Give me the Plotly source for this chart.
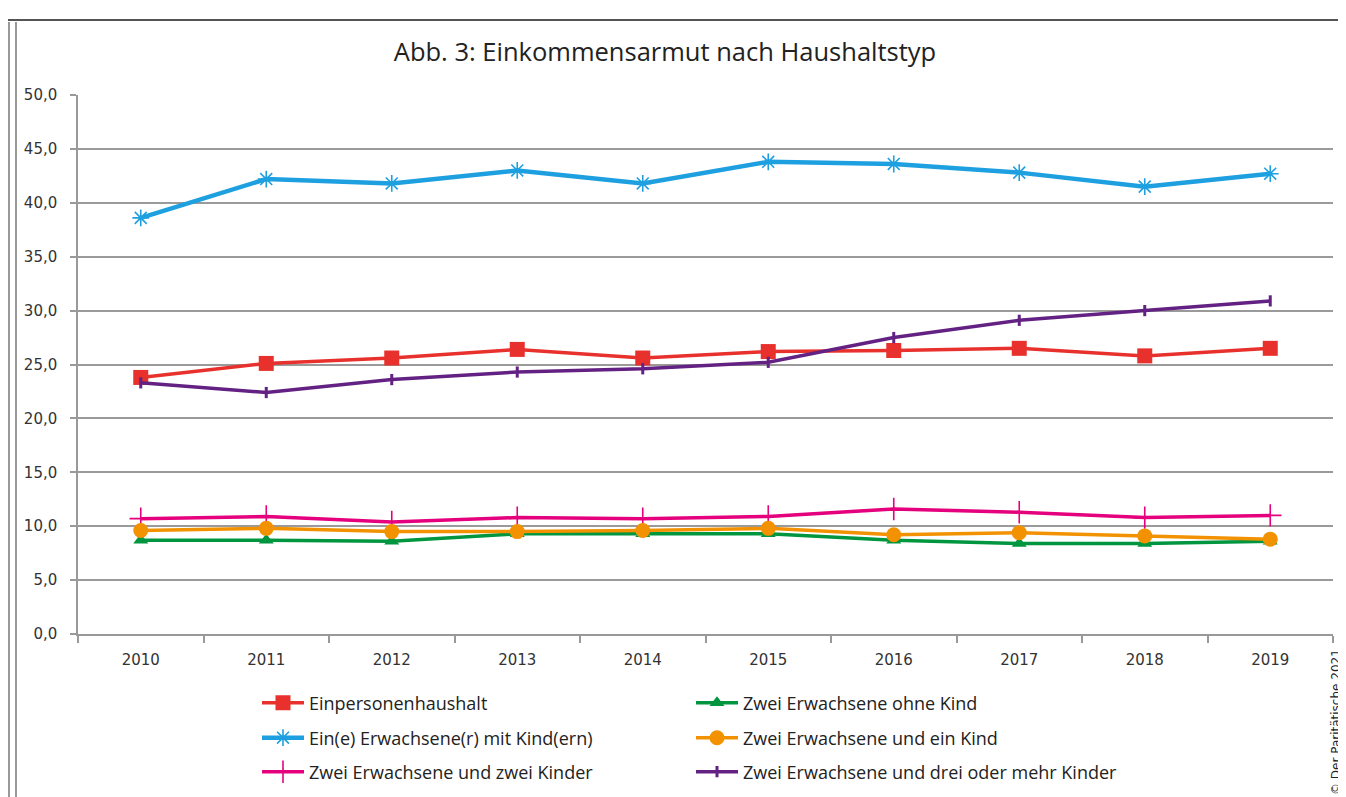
import plotly.graph_objects as go

years = ["2010", "2011", "2012", "2013", "2014", "2015", "2016", "2017", "2018", "2019"]

einpersonen = [23.8, 25.1, 25.6, 26.4, 25.6, 26.2, 26.3, 26.5, 25.8, 26.5]
alleinerziehend = [38.6, 42.2, 41.8, 43.0, 41.8, 43.8, 43.6, 42.8, 41.5, 42.7]
zwei_zwei_kinder = [10.7, 10.9, 10.4, 10.8, 10.7, 10.9, 11.6, 11.3, 10.8, 11.0]
zwei_ohne_kind = [8.7, 8.7, 8.6, 9.3, 9.3, 9.3, 8.7, 8.4, 8.4, 8.6]
zwei_ein_kind = [9.6, 9.8, 9.5, 9.5, 9.6, 9.8, 9.2, 9.4, 9.1, 8.8]
zwei_drei_kinder = [23.3, 22.4, 23.6, 24.3, 24.6, 25.2, 27.5, 29.1, 30.0, 30.9]

names = [
    "Einpersonenhaushalt",
    "Ein(e) Erwachsene(r) mit Kind(ern)",
    "Zwei Erwachsene und zwei Kinder",
    "Zwei Erwachsene ohne Kind",
    "Zwei Erwachsene und ein Kind",
    "Zwei Erwachsene und drei oder mehr Kinder",
]

# page has an 8px body margin; work in screen pixels and convert
OFF = 8
W, H = 1346 - OFF, 797 - OFF
L, R, T, B = 78 - OFF, 13, 95 - OFF, 797 - 634
PW, PH = W - L - R, H - T - B

def px_x(sx):
    return (sx - OFF - L) / PW

def px_y(sy):
    return (H - B - (sy - OFF)) / PH

series = [
    (names[0], einpersonen, "#E8312C", dict(symbol="square", size=15), 3.5, "legend", 257, 703),
    (names[1], alleinerziehend, "#1EA0E0", dict(symbol="asterisk-open", size=14, line=dict(width=1.6, color="#1EA0E0")), 4.5, "legend2", 257, 738),
    (names[2], zwei_zwei_kinder, "#E5007D", dict(symbol="cross-thin-open", size=16, line=dict(width=1.6, color="#E5007D")), 3.5, "legend3", 257, 772),
    (names[3], zwei_ohne_kind, "#00953F", dict(symbol="triangle-up", size=13), 3.5, "legend4", 691, 703),
    (names[4], zwei_ein_kind, "#F39200", dict(symbol="circle", size=15), 3.5, "legend5", 691, 738),
    (names[5], zwei_drei_kinder, "#632283", dict(symbol="line-ns-open", size=8, line=dict(width=3, color="#632283")), 3.5, "legend6", 691, 772),
]

fig = go.Figure()
legend_layouts = {}
font_fam = "Open Sans, Roboto, sans-serif"
for name, vals, color, marker, lw, lg, lx, ly in series:
    fig.add_trace(go.Scatter(
        x=years, y=vals, name=name, mode="lines+markers",
        line=dict(color=color, width=lw),
        marker=dict(color=color, **marker),
        legend=lg,
    ))
    legend_layouts[lg] = dict(
        x=px_x(lx), y=px_y(ly), xanchor="left", yanchor="middle",
        orientation="h", itemwidth=42, bgcolor="rgba(0,0,0,0)",
        font=dict(family=font_fam, size=18, color="#222"),
    )

fig.update_layout(
    width=W, height=H,
    margin=dict(l=L, r=R, t=T, b=B, autoexpand=False),
    paper_bgcolor="white", plot_bgcolor="white",
    separators=",.",
    title=dict(text="Abb. 3: Einkommensarmut nach Haushaltstyp", x=(665 - OFF) / W, xanchor="center",
               y=1 - (52 - OFF) / H, yanchor="middle",
               font=dict(family=font_fam, size=25.5, color="#222")),
    showlegend=True,
    **legend_layouts,
)

fig.update_xaxes(
    type="category", range=[-0.5, 9.5], tickson="boundaries",
    ticks="outside", ticklen=7, tickcolor="#999", tickwidth=1.5,
    showline=True, linecolor="#999", linewidth=1.5, showgrid=False,
    ticklabelstandoff=11,
    tickfont=dict(family="DejaVu Sans", size=15, color="#333"),
)
fig.update_yaxes(
    range=[0, 50], dtick=5, tickformat=".1f",
    ticks="outside", ticklen=6, tickcolor="#999", tickwidth=1.5,
    showline=True, linecolor="#999", linewidth=1.5,
    showgrid=True, gridcolor="#9a9a9a", gridwidth=1.5, zeroline=False,
    ticklabelstandoff=10,
    tickfont=dict(family="DejaVu Sans", size=15, color="#333"),
)

# frame of the original chart
fig.add_shape(type="line", xref="paper", yref="paper", x0=px_x(0), x1=px_x(1346), y0=px_y(20), y1=px_y(20),
              line=dict(color="#555", width=2))
fig.add_shape(type="line", xref="paper", yref="paper", x0=px_x(9), x1=px_x(9), y0=px_y(22), y1=px_y(797),
              line=dict(color="#777", width=1.5))
fig.add_shape(type="line", xref="paper", yref="paper", x0=px_x(16), x1=px_x(16), y0=px_y(22), y1=px_y(797),
              line=dict(color="#777", width=1.5))

fig.add_annotation(text="© Der Paritätische 2021", xref="paper", yref="paper",
                   x=px_x(1336), y=px_y(797), xanchor="center", yanchor="bottom",
                   textangle=-90, showarrow=False,
                   font=dict(family="DejaVu Sans", size=12, color="#222"))

fig.write_html("out.html")
